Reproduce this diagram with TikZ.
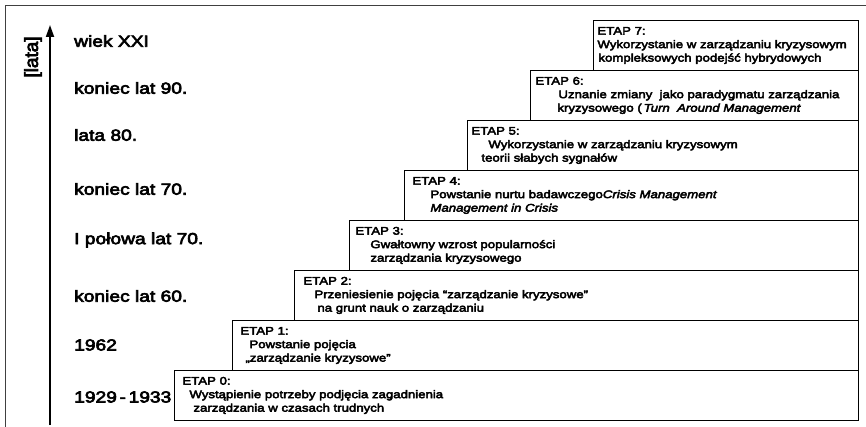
\documentclass[tikz,border=0pt]{standalone}
\usepackage{fontspec}
\setmainfont{Liberation Sans}[FakeStretch=1.2,FakeBold=4]
\newfontfamily\axisfont{Liberation Sans}[FakeBold=4]
\usepackage{tikz}
\usetikzlibrary{arrows.meta}
\tikzset{
  etap/.style={draw, line width=0.9pt, anchor=north west, minimum height=50pt,
               text width=#1, inner xsep=4pt, inner ysep=0pt, align=left,
               font=\fontsize{11}{13.5}\selectfont},
  period/.style={anchor=west, inner sep=0pt, font=\fontsize{16}{18}\selectfont},
  timeaxis/.style={-{Triangle[length=12pt, width=8pt]}, line width=1.8pt},
  frame/.style={line width=0.6pt, black!75},
}
\newcommand{\ind}[1]{\hspace*{#1pt}}

\begin{document}
\begin{tikzpicture}[x=1pt, y=-1pt]

  \useasboundingbox (0,0) rectangle (866,427);

  % Outer frame (cut off at right and bottom)
  \draw[frame] (5,427) -- (5,5) -- (866,5);

  % Time axis
  \coordinate (axisbottom) at (50,425);
  \coordinate (axistop)    at (50,25);
  \draw[timeaxis] (axisbottom) -- (axistop);
  \node[rotate=90, font=\axisfont\fontsize{19}{19}\selectfont] (unit) at (33,57) {[lata]};

  % Periods
  \node[period] (p7) at (74,41)  {wiek XXI};
  \node[period] (p6) at (74,88)  {koniec lat 90.};
  \node[period] (p5) at (74,135) {lata 80.};
  \node[period] (p4) at (74,189) {koniec lat 70.};
  \node[period] (p3) at (74,240) {I połowa lat 70.};
  \node[period] (p2) at (74,296) {koniec lat 60.};
  \node[period] (p1) at (74,345) {1962};
  \node[period] (p0) at (74,397) {1929\,-\,1933};

  % Stages
  \node[etap=676pt] (e0) at (174,370)
    {\ind{4}ETAP 0:\\\ind{11}Wystąpienie potrzeby podjęcia zagadnienia\\\ind{15}zarządzania w czasach trudnych};
  \node[etap=618pt] (e1) at (232,320)
    {\ind{4}ETAP 1:\\\ind{13}Powstanie pojęcia\\\ind{9}„zarządzanie kryzysowe”};
  \node[etap=556pt] (e2) at (294,270)
    {\ind{5}ETAP 2:\\\ind{16}Przeniesienie pojęcia “zarządzanie kryzysowe”\\\ind{19}na grunt nauk o zarządzaniu};
  \node[etap=501pt] (e3) at (349,220)
    {\ind{2}ETAP 3:\\\ind{17}Gwałtowny wzrost popularności\\\ind{17}zarządzania kryzysowego};
  \node[etap=446pt] (e4) at (404,170)
    {\ind{4}ETAP 4:\\\ind{22}Powstanie nurtu badawczego\textit{Crisis Management}\\\ind{22}\textit{Management in Crisis}};
  \node[etap=383pt] (e5) at (467,120)
    {ETAP 5:\\\ind{17}Wykorzystanie w zarządzaniu kryzysowym\\\ind{10}teorii słabych sygnałów};
  \node[etap=320pt] (e6) at (530,70)
    {\ind{1}ETAP 6:\\\ind{24}Uznanie zmiany\ \ jako paradygmatu zarządzania\\\ind{23}kryzysowego\ (\,\textit{Turn\ \ Around Management}};
  \node[etap=257pt] (e7) at (593,20)
    {ETAP 7:\\Wykorzystanie w zarządzaniu kryzysowym\\\ind{1}kompleksowych podejść hybrydowych};

\end{tikzpicture}
\end{document}
